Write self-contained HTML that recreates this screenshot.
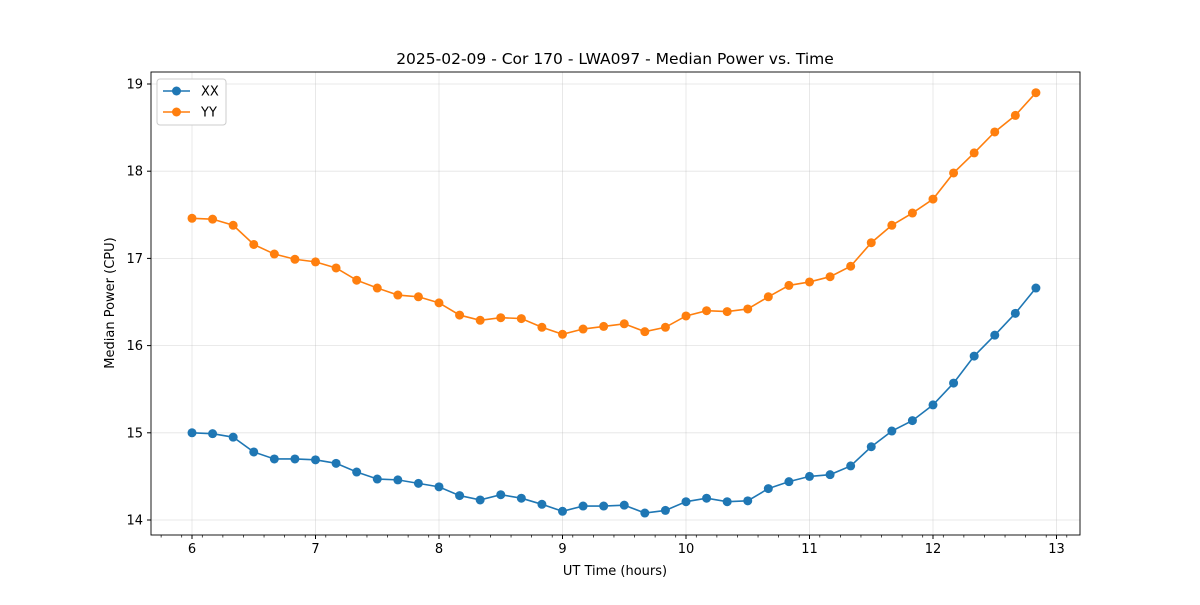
<!DOCTYPE html>
<html><head><meta charset="utf-8"><style>
body{margin:0;background:#fff;font-family:"Liberation Sans","DejaVu Sans",sans-serif}
svg text{font-family:"DejaVu Sans","Liberation Sans",sans-serif}
</style></head><body>
<svg id="c" width="1200" height="600"></svg>
<script>
const times=[];for(let i=0;i<42;i++)times.push(6+i/6);
const xxValues=[15.00,14.99,14.95,14.78,14.70,14.70,14.69,14.65,14.55,14.47,14.46,14.42,14.38,14.28,14.23,14.29,14.25,14.18,14.10,14.16,14.16,14.17,14.08,14.11,14.21,14.25,14.21,14.22,14.36,14.44,14.50,14.52,14.62,14.84,15.02,15.14,15.32,15.57,15.88,16.12,16.37,16.66];
const yyValues=[17.46,17.45,17.38,17.16,17.05,16.99,16.96,16.89,16.75,16.66,16.58,16.56,16.49,16.35,16.29,16.32,16.31,16.21,16.13,16.19,16.22,16.25,16.16,16.21,16.34,16.40,16.39,16.42,16.56,16.69,16.73,16.79,16.91,17.18,17.38,17.52,17.68,17.98,18.21,18.45,18.64,18.90];
const xTicks=[6,7,8,9,10,11,12,13];
const yTicks=[14,15,16,17,18,19];
const L=151,R=1080,T=72,B=535;
const X=v=>192+(v-6)*123.5, Y=v=>520-(v-14)*87.2;
const s=document.getElementById('c');const NS='http://www.w3.org/2000/svg';
function mk(t,a,p){const e=document.createElementNS(NS,t);for(const k in a)e.setAttribute(k,a[k]);(p||s).appendChild(e);return e;}
let g;
xTicks.forEach(v=>{g=mk('line',{x1:X(v),x2:X(v),y1:T,y2:B,stroke:'#b0b0b0','stroke-opacity':0.35,'stroke-width':0.8});

mk('line',{x1:X(v),x2:X(v),y1:B,y2:B+4,stroke:'#000'});
g=mk('text',{x:X(v),y:B+18,'text-anchor':'middle','font-size':13});g.textContent=v;
});
for(let m=5.75;m<13.1;m+=1/6){if(Math.abs(m*6-Math.round(m*6))<0.01&&Math.round(m*6)%6===0)continue;const px=X(m);if(px<L||px>R)continue;mk('line',{x1:px,x2:px,y1:B,y2:B+2.5,stroke:'#000','stroke-width':0.7});}
yTicks.forEach(v=>{g=mk('line',{x1:L,x2:R,y1:Y(v),y2:Y(v),stroke:'#b0b0b0','stroke-opacity':0.35,'stroke-width':0.8});

mk('line',{x1:L-4,x2:L,y1:Y(v),y2:Y(v),stroke:'#000'});
g=mk('text',{x:L-8,y:Y(v)+4.5,'text-anchor':'end','font-size':13});g.textContent=v;
});
g=mk('rect',{x:L,y:T,width:R-L,height:B-T,fill:'none',stroke:'#000','stroke-width':0.9});

function series(vals,col,name){
 g=mk('polyline',{points:vals.map((v,i)=>X(times[i])+','+Y(v)).join(' '),fill:'none',stroke:col,'stroke-width':1.6});
 
 vals.forEach((v,i)=>{g=mk('circle',{cx:X(times[i]),cy:Y(v),r:4.5,fill:col});
 });
}
series(xxValues,'#1f77b4','xx');series(yyValues,'#ff7f0e','yy');
g=mk('text',{x:615,y:64,'text-anchor':'middle','font-size':15.5});g.textContent='2025-02-09 - Cor 170 - LWA097 - Median Power vs. Time';

g=mk('text',{x:615,y:575,'text-anchor':'middle','font-size':13});g.textContent='UT Time (hours)';

g=mk('text',{x:114,y:303,'text-anchor':'middle','font-size':13,transform:'rotate(-90 114 303)'});g.textContent='Median Power (CPU)';

g=mk('rect',{x:157,y:79,width:69,height:46,rx:3,fill:'#fff',stroke:'#ccc'});

[['XX','#1f77b4',91],['YY','#ff7f0e',112]].forEach(([n,c,y])=>{
 mk('line',{x1:163,x2:190,y1:y,y2:y,stroke:c,'stroke-width':1.6});mk('circle',{cx:176.5,cy:y,r:4.5,fill:c});
 g=mk('text',{x:201,y:y+4.5,'font-size':13});g.textContent=n;
 });
</script>
</body></html>
